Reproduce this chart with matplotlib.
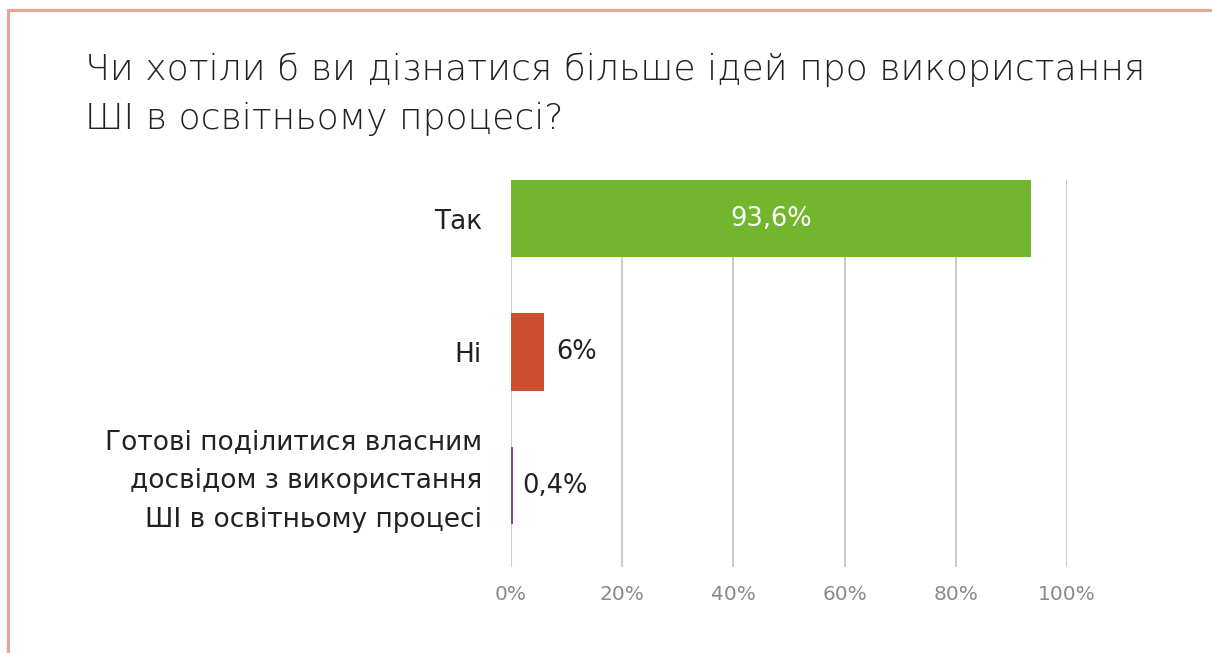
import matplotlib
matplotlib.use("Agg")
import matplotlib.pyplot as plt
from matplotlib.lines import Line2D
from matplotlib.transforms import ScaledTranslation

categories = ["Так", "Ні", "Готові поділитися власним\nдосвідом з використання\nШІ в освітньому процесі"]
values = [93.6, 6.0, 0.4]
value_labels = ["93,6%", "6%", "0,4%"]
colors = ["#72B62E", "#CC4F2E", "#8E3F96"]
xticks = [0, 20, 40, 60, 80, 100]
xtick_labels = ["0%", "20%", "40%", "60%", "80%", "100%"]
title = "Чи хотіли б ви дізнатися більше ідей про використання\nШІ в освітньому процесі?"

plt.rcParams['font.family'] = ['DejaVu Sans']

W, H = 1212, 653
fig = plt.figure(figsize=(W/100, H/100), dpi=100)
fig.patch.set_facecolor("white")

# border lines
border_col = "#EFA18F"
fig.add_artist(Line2D([8/W, 1.0], [1-10/H, 1-10/H], color=border_col, lw=2.2, transform=fig.transFigure))
fig.add_artist(Line2D([8/W, 8/W], [0, 1-10/H], color=border_col, lw=2.2, transform=fig.transFigure))

fig.text(85/W, 1-53/H, title, ha="left", va="top", fontsize=26, color="#222222",
         fontweight="light", linespacing=1.52)

ax = fig.add_axes([511/W, 1-567/H, (1067-511)/W, (567-180)/H])
ypos = list(range(len(categories)))
bh = 0.58
ax.barh(ypos, values, height=bh, color=colors, zorder=3)
ax.set_xlim(0, 100)
ax.set_ylim(2.61, -0.29)

for x in xticks:
    ax.axvline(x, color="#CCCCCC", lw=1.5, zorder=1)

for s in ax.spines.values():
    s.set_visible(False)

ax.set_xticks(xticks)
ax.set_xticklabels(xtick_labels, fontsize=14.5, color="#8A8A8A")
ax.tick_params(axis="x", length=0, pad=13)
ax.set_yticks(ypos)
ax.set_yticklabels(categories, fontsize=19, color="#222222", linespacing=1.65)
ax.tick_params(axis="y", length=0, pad=21)

# nudge the multi-line label slightly upward as in the reference
lbl = ax.get_yticklabels()[2]
lbl.set_transform(lbl.get_transform() + ScaledTranslation(0, 10/72, fig.dpi_scale_trans))

# value labels
ax.text(values[0]/2, 0, value_labels[0], ha="center", va="center", color="white", fontsize=18.5, zorder=4)
ax.text(values[1] + 2.2, 1, value_labels[1], ha="left", va="center", color="#222222", fontsize=18.5, zorder=4)
ax.text(values[2] + 1.7, 2, value_labels[2], ha="left", va="center", color="#222222", fontsize=18.5, zorder=4)

fig.savefig("out.png", dpi=100, facecolor="white")
